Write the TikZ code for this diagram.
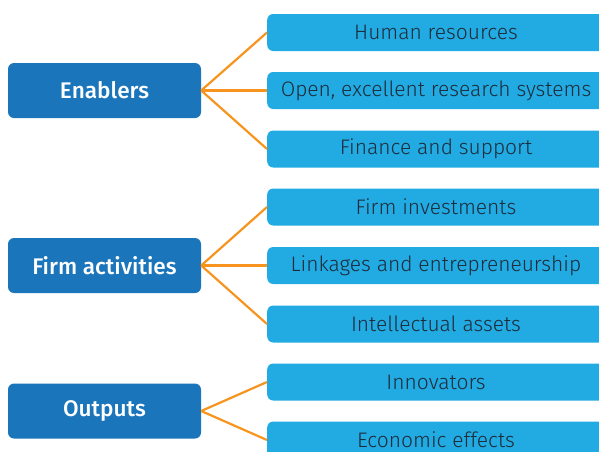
\documentclass[tikz,border=0pt]{standalone}
\usepackage{fontspec}
\setmainfont{Fira Sans Light}[BoldFont={Fira Sans Medium}]
\definecolor{darkblue}{HTML}{1A75BB}
\definecolor{lightblue}{HTML}{22ABE2}
\definecolor{linkorange}{HTML}{F7941D}
\definecolor{textdark}{HTML}{1D2B3A}
\begin{document}
\begin{tikzpicture}[x=1pt,y=-1pt,
  catbox/.style={fill=darkblue, rounded corners=6pt, minimum width=193pt, minimum height=55pt, inner sep=0pt, text=white, font=\fontsize{22.6}{26}\selectfont\bfseries},
  itembox/.style={fill=lightblue, rounded corners=6pt, minimum width=345pt, minimum height=37pt, inner sep=0pt},
  itemtext/.style={text=textdark, font=\fontsize{21}{24}\selectfont, inner sep=0pt},
  link/.style={draw=linkorange, line width=2.2pt}]
\useasboundingbox (0,0) rectangle (599,451);
\clip (0,0) rectangle (599,451);
% category boxes
\node[catbox] (enab) at (104.5,90.5) {Enablers};
\node[catbox] (firm) at (104.5,265.5) {Firm activities};
\node[catbox] (outp) at (104.5,411) {Outputs};
% item boxes (extend beyond right edge)
\node[itembox, anchor=west] (hr) at (267,32.5) {};
\node[itembox, anchor=west] (open) at (267,90.5) {};
\node[itembox, anchor=west] (fin) at (267,149) {};
\node[itembox, anchor=west] (inv) at (267,207) {};
\node[itembox, anchor=west] (link) at (267,265.5) {};
\node[itembox, anchor=west] (ia) at (267,324) {};
\node[itembox, anchor=west] (inno) at (267,382) {};
\node[itembox, anchor=west] (econ) at (267,440) {};
% texts
\node[itemtext] (thr) at (436,32.5) {Human resources};
\node[itemtext] (topen) at (436,90.5) {Open, excellent research systems};
\node[itemtext] (tfin) at (436,149) {Finance and support};
\node[itemtext] (tinv) at (436,207) {Firm investments};
\node[itemtext] (tlink) at (436,265.5) {Linkages and entrepreneurship};
\node[itemtext] (tia) at (436,324) {Intellectual assets};
\node[itemtext] (tinno) at (436,382) {Innovators};
\node[itemtext] (tecon) at (436,440) {Economic effects};
% connectors
\draw[link] (enab.east) -- (hr.west);
\draw[link] (enab.east) -- (open.west);
\draw[link] (enab.east) -- (fin.west);
\draw[link] (firm.east) -- (inv.west);
\draw[link] (firm.east) -- (link.west);
\draw[link] (firm.east) -- (ia.west);
\draw[link] (outp.east) -- (inno.west);
\draw[link] (outp.east) -- (econ.west);
\end{tikzpicture}
\end{document}
